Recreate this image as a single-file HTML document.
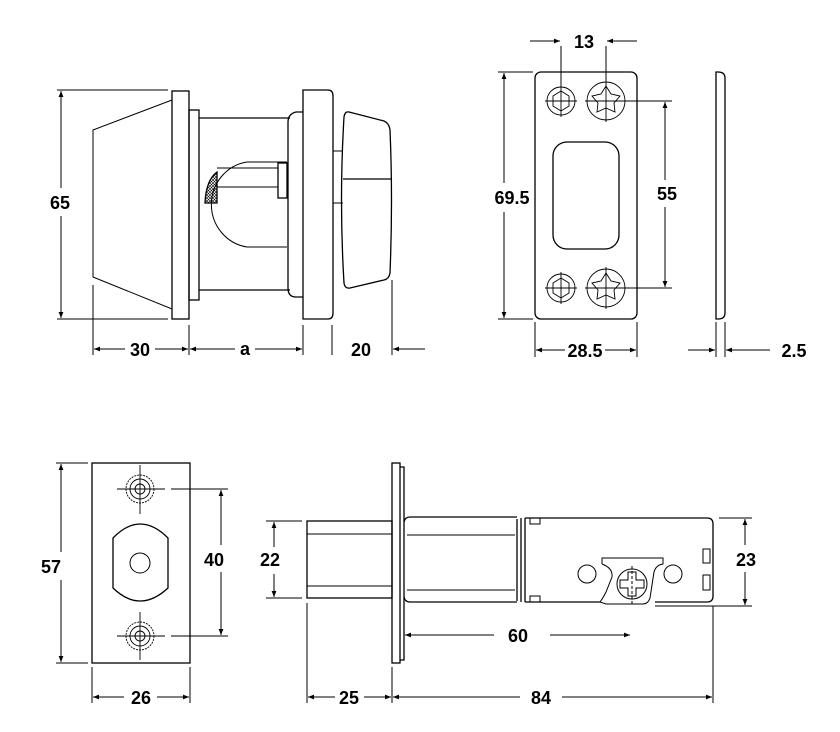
<!DOCTYPE html>
<html><head><meta charset="utf-8"><style>
html,body{margin:0;padding:0;background:#fff}
svg{display:block}
text{font-family:"Liberation Sans",Arial,sans-serif;font-weight:bold;font-size:18px;fill:#000;text-anchor:middle}
</style></head><body>
<svg width="840" height="732" viewBox="0 0 840 732" xmlns="http://www.w3.org/2000/svg">
<defs>
<marker id="a" viewBox="0 0 10 10" refX="10" refY="5" markerWidth="9" markerHeight="6" orient="auto-start-reverse" markerUnits="userSpaceOnUse"><path d="M0,1 L10,5 L0,9 z" fill="#000"/></marker>
<pattern id="h" width="3" height="3" patternUnits="userSpaceOnUse"><path d="M0,0 L3,3 M3,0 L0,3" stroke="#000" stroke-width="0.6"/></pattern>
</defs>
<g fill="none" stroke="#000" stroke-width="1.3">
<path d="M93,130 L172,100 L172,309 L93,277 Z" stroke-width="1"/>
<rect x="172" y="91" width="17" height="228"/>
<rect x="189" y="110" width="10" height="190"/>
<line x1="199" y1="118" x2="290" y2="118"/>
<line x1="199" y1="290" x2="290" y2="290"/>
<path d="M303,112 L296,112 Q288,114 288,122 L288,288 Q288,297 296,297 L303,297"/>
<path d="M303,90 L328,90 Q333,90 333,96 L333,313 Q333,319 328,319 L303,319 Z"/>
<path d="M333,151 L343,151 M333,203 L343,203" stroke-width="1"/>
<path d="M349,112 L384,121 Q389,123 390,130 Q393,200 390,273 Q389,279 384,280 L350,288 Q345,289 344,283 Q339,200 344,117 Q345,111 349,112 Z"/>
<line x1="343" y1="179" x2="391" y2="179"/>
<path d="M287,162 L247,162 A42,43 0 0 0 247,247 L287,247" stroke-width="1"/>
<path d="M217,168 L278,168 M217,187 L278,187" stroke-width="1"/>
<rect x="278" y="163" width="9" height="35"/>
<path d="M217,172 L217,203 L205,203 Q206,180 217,172 Z" fill="url(#h)"/>
<g stroke-width="1">
<line x1="57" y1="90" x2="168" y2="90"/><line x1="57" y1="319" x2="168" y2="319"/>
<line x1="61" y1="188" x2="61" y2="91" marker-end="url(#a)"/>
<line x1="61" y1="216" x2="61" y2="318" marker-end="url(#a)"/>
<line x1="93" y1="285" x2="93" y2="355"/>
<line x1="189" y1="325" x2="189" y2="355"/>
<line x1="303" y1="325" x2="303" y2="355"/>
<line x1="332" y1="325" x2="332" y2="355"/>
<line x1="392" y1="280" x2="392" y2="355"/>
<line x1="125" y1="349" x2="94" y2="349" marker-end="url(#a)"/>
<line x1="155" y1="349" x2="188" y2="349" marker-end="url(#a)"/>
<line x1="235" y1="349" x2="190" y2="349" marker-end="url(#a)"/>
<line x1="255" y1="349" x2="302" y2="349" marker-end="url(#a)"/>
<line x1="425" y1="349" x2="393" y2="349" marker-end="url(#a)"/>
</g>
<rect x="535" y="72" width="102" height="247" rx="6"/>
<rect x="553" y="142" width="66" height="107" rx="14"/>
<g stroke-width="0.9">
<circle cx="561" cy="101" r="14"/><circle cx="606" cy="101" r="19"/>
<circle cx="561" cy="288" r="14"/><circle cx="606" cy="288" r="19"/>
<path d="M561,91 L569,96 L569,106 L561,111 L553,106 L553,96 Z"/>
<path d="M561,278 L569,283 L569,293 L561,298 L553,293 L553,283 Z"/>
<path d="M606,86 L611,94 L620,96 L614,103 L615,112 L606,108 L597,112 L598,103 L592,96 L601,94 Z"/>
<path d="M606,273 L611,281 L620,283 L614,290 L615,299 L606,295 L597,299 L598,290 L592,283 L601,281 Z"/>
<path d="M545,101 L577,101 M561,85 L561,117 M585,101 L672,101 M606,80 L606,122 M545,288 L577,288 M561,272 L561,304 M585,288 L672,288 M606,267 L606,309"/>
</g>
<path d="M718,72 Q725,72 725,78 L725,313 Q725,319 718,319 L716,319 L716,72 Z"/>
<g stroke-width="1">
<line x1="561" y1="46" x2="561" y2="85"/><line x1="606" y1="46" x2="606" y2="80"/>
<line x1="530" y1="41" x2="560" y2="41" marker-end="url(#a)"/>
<line x1="637" y1="41" x2="607" y2="41" marker-end="url(#a)"/>
<line x1="498" y1="72" x2="533" y2="72"/><line x1="498" y1="319" x2="533" y2="319"/>
<line x1="504" y1="183" x2="504" y2="73" marker-end="url(#a)"/>
<line x1="504" y1="212" x2="504" y2="318" marker-end="url(#a)"/>
<line x1="665" y1="180" x2="665" y2="102" marker-end="url(#a)"/>
<line x1="665" y1="207" x2="665" y2="287" marker-end="url(#a)"/>
<line x1="535" y1="322" x2="535" y2="357"/><line x1="637" y1="322" x2="637" y2="357"/>
<line x1="565" y1="350" x2="536" y2="350" marker-end="url(#a)"/>
<line x1="605" y1="350" x2="636" y2="350" marker-end="url(#a)"/>
<line x1="716" y1="322" x2="716" y2="357"/><line x1="725" y1="322" x2="725" y2="357"/>
<line x1="688" y1="350" x2="715" y2="350" marker-end="url(#a)"/>
<line x1="770" y1="350" x2="726" y2="350" marker-end="url(#a)"/>
</g>
<rect x="92" y="463" width="98" height="200"/>
<g stroke-width="0.9">
<circle cx="140" cy="489" r="14" stroke-dasharray="2,1"/><circle cx="140" cy="489" r="10"/><circle cx="140" cy="489" r="5"/>
<circle cx="140" cy="636" r="14" stroke-dasharray="2,1"/><circle cx="140" cy="636" r="10"/><circle cx="140" cy="636" r="5"/>
<path d="M117,489 L165,489 M140,465 L140,514 M171,489 L228,489 M117,636 L165,636 M140,612 L140,660 M171,636 L228,636"/>
</g>
<path d="M113,538 Q140,510 168,538 L168,588 Q140,614 113,588 Z"/>
<circle cx="140" cy="563" r="10" stroke-width="1"/>
<g stroke-width="1">
<line x1="56" y1="463" x2="88" y2="463"/><line x1="56" y1="663" x2="88" y2="663"/>
<line x1="61" y1="552" x2="61" y2="464" marker-end="url(#a)"/>
<line x1="61" y1="580" x2="61" y2="662" marker-end="url(#a)"/>
<line x1="221" y1="545" x2="221" y2="490" marker-end="url(#a)"/>
<line x1="221" y1="572" x2="221" y2="635" marker-end="url(#a)"/>
<line x1="92" y1="667" x2="92" y2="703"/><line x1="190" y1="667" x2="190" y2="703"/>
<line x1="124" y1="697" x2="93" y2="697" marker-end="url(#a)"/>
<line x1="157" y1="697" x2="189" y2="697" marker-end="url(#a)"/>
</g>
<rect x="392" y="463" width="8" height="200"/>
<path d="M400,467 L404,467 L404,660 L400,660"/>
<rect x="307" y="521" width="85" height="77"/>
<path d="M307,534 L392,534 M307,586 L392,586" stroke-width="1"/>
<path d="M404,522 Q405,517 410,517 L517,517 M404,597 Q405,602 410,602 L517,602"/>
<path d="M407,535 L515,535 M407,590 L515,590" stroke-width="1"/>
<path d="M517,519 L517,601 M521,518 L521,602 M525,518 L525,602"/>
<path d="M525,518 L707,518 Q713,518 713,524 L713,596 Q713,602 707,602 L655,602 M600,602 L525,602"/>
<path d="M530,518 L530,524 L540,524 L540,518 M530,602 L530,596 L540,596 L540,602" stroke-width="1"/>
<rect x="703" y="549" width="7" height="14" stroke-width="1"/>
<rect x="703" y="575" width="7" height="15" stroke-width="1"/>
<g stroke-width="1">
<circle cx="587" cy="574" r="9"/><circle cx="673" cy="574" r="9"/>
<circle cx="632" cy="584" r="15"/>
<path d="M602,564 L602,558 L663,558 L663,564 Q656,565 654,572 L650,598 Q648,604 643,604 L606,604 L600,602 Q603,598 606,592 L612,577 Q613,568 602,564"/>
<path d="M628,572 L636,572 L636,580 L644,580 L644,588 L636,588 L636,596 L628,596 L628,588 L620,588 L620,580 L628,580 Z"/>
<path d="M632,566 L632,604" stroke-dasharray="3,2"/>
</g>
<g stroke-width="1">
<line x1="266" y1="521" x2="302" y2="521"/><line x1="266" y1="598" x2="302" y2="598"/>
<line x1="274" y1="547" x2="274" y2="522" marker-end="url(#a)"/>
<line x1="274" y1="574" x2="274" y2="597" marker-end="url(#a)"/>
<line x1="719" y1="518" x2="752" y2="518"/><line x1="655" y1="606" x2="752" y2="606"/>
<line x1="745" y1="545" x2="745" y2="519" marker-end="url(#a)"/>
<line x1="745" y1="572" x2="745" y2="605" marker-end="url(#a)"/>
<line x1="494" y1="635" x2="405" y2="635" marker-end="url(#a)"/>
<line x1="550" y1="635" x2="630" y2="635" marker-end="url(#a)"/>
<line x1="307" y1="603" x2="307" y2="703"/><line x1="392" y1="667" x2="392" y2="703"/>
<line x1="713" y1="606" x2="713" y2="703"/>
<line x1="335" y1="697" x2="308" y2="697" marker-end="url(#a)"/>
<line x1="364" y1="697" x2="391" y2="697" marker-end="url(#a)"/>
<line x1="520" y1="697" x2="393" y2="697" marker-end="url(#a)"/>
<line x1="562" y1="697" x2="712" y2="697" marker-end="url(#a)"/>
</g>
</g>
<text x="60" y="209">65</text>
<text x="140" y="356">30</text>
<text x="245" y="355">a</text>
<text x="361" y="356">20</text>
<text x="584" y="48">13</text>
<text x="512" y="204">69.5</text>
<text x="667" y="200">55</text>
<text x="585" y="357">28.5</text>
<text x="794" y="357">2.5</text>
<text x="51" y="573">57</text>
<text x="214" y="566">40</text>
<text x="141" y="704">26</text>
<text x="270" y="566">22</text>
<text x="746" y="566">23</text>
<text x="518" y="642">60</text>
<text x="349" y="704">25</text>
<text x="541" y="704">84</text>
</svg>
</body></html>
